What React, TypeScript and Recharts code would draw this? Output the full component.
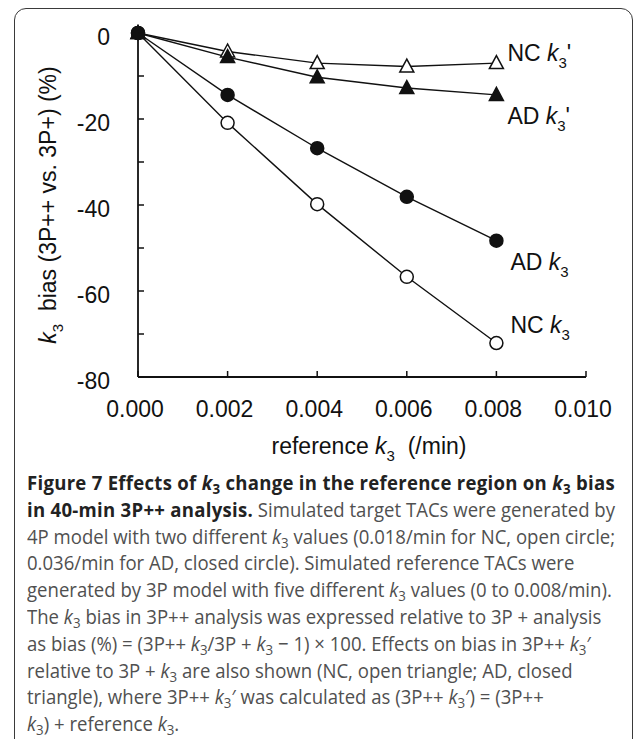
import React from 'react';
import { LineChart, Line, XAxis, YAxis, Label } from 'recharts';

// reference k3 (/min) and bias (%)
const refK3 = [0, 0.002, 0.004, 0.006, 0.008];
const ncK3 = [0, -20.9, -39.8, -56.7, -72.1];
const adK3 = [0, -14.4, -26.8, -38.1, -48.3];
const ncK3p = [0, -4.3, -7.0, -7.8, -7.0];
const adK3p = [0, -5.6, -10.3, -12.8, -14.4];

const xTicks = [0, 0.002, 0.004, 0.006, 0.008, 0.01];
const yTicks = [0, -10, -20, -30, -40, -50, -60, -70, -80];

const data = refK3.map((x, i) => ({
    x,
    ncK3: ncK3[i],
    adK3: adK3[i],
    ncK3p: ncK3p[i],
    adK3p: adK3p[i],
}));

const INK = '#111';
const FONT = '"Liberation Sans", Arial, sans-serif';
const LAST = refK3.length - 1;

const YTick = ({ x, y, payload }: any) => (
    <g>
        <line x1={x} y1={y} x2={x + 6} y2={y} stroke={INK} strokeWidth={1.5} />
        {payload.value % 20 === 0 && (
            <text x={x - 28} y={y + 4} dy="0.355em" textAnchor="end" fontSize={23} fontFamily={FONT} fill={INK}>
                {payload.value}
            </text>
        )}
    </g>
);

const XTick = ({ x, y, payload }: any) => (
    <g>
        <line x1={x} y1={y} x2={x} y2={y - 6} stroke={INK} strokeWidth={1.5} />
        <text x={x - 3} y={y + 24} dy="0.71em" textAnchor="middle" fontSize={23} fontFamily={FONT} fill={INK}>
            {payload.value.toFixed(3)}
        </text>
    </g>
);

// "AD k3'" style tag, drawn next to the last point of a series
const Tag = ({ x, y, group, prime }: { x: number; y: number; group: string; prime?: boolean }) => (
    <text x={x} y={y} dy="0.355em" fontSize={23} fontFamily={FONT} fill={INK}>
        {group} <tspan fontStyle="italic">k</tspan>
        <tspan fontSize={15} dy={7}>3</tspan>
        {prime && <tspan dy={-7}>'</tspan>}
    </text>
);

const makeDot = (shape: 'circle' | 'triangle', filled: boolean, tag: { group: string; prime?: boolean; dx: number; dy: number }) =>
    (p: any) => {
        const { cx, cy, index } = p;
        const fill = filled ? INK : '#fff';
        return (
            <g key={`dot-${tag.group}-${tag.prime ? 'p' : ''}-${index}`}>
                {shape === 'circle' ? (
                    <circle cx={cx} cy={cy} r={6.5} fill={fill} stroke={INK} strokeWidth={1.5} />
                ) : (
                    <polygon
                        points={`${cx},${cy - 7.5} ${cx - 7},${cy + 5.5} ${cx + 7},${cy + 5.5}`}
                        fill={fill}
                        stroke={INK}
                        strokeWidth={1.5}
                        strokeLinejoin="miter"
                    />
                )}
                {index === LAST && <Tag x={cx + tag.dx} y={cy + tag.dy} group={tag.group} prime={tag.prime} />}
            </g>
        );
    };

const K = ({ prime }: { prime?: boolean }) => (
    <span style={{ whiteSpace: 'nowrap' }}>
        <i>k</i>
        <span style={{ fontSize: '0.72em', lineHeight: 0, position: 'relative', top: '0.28em' }}>3</span>
        {prime ? '′' : ''}
    </span>
);

const Caption = () => (
    <div
        style={{
            position: 'absolute',
            left: 27,
            top: 470,
            fontFamily: '"Open Sans", "Noto Sans", sans-serif',
            fontSize: 20,
            lineHeight: '26.8px',
            color: '#505050',
            whiteSpace: 'nowrap',
            transform: 'scaleX(0.928)',
            transformOrigin: 'left top',
        }}
    >
        <div style={{ height: 26.8, color: '#222', fontWeight: 700, letterSpacing: 0.3 }}>
            Figure 7 Effects of <K /> change in the reference region on <K /> bias
        </div>
        <div style={{ height: 26.8 }}>
            <b style={{ color: '#222', letterSpacing: 0.3 }}>in 40-min 3P++ analysis.</b> Simulated target TACs were generated by
        </div>
        <div style={{ height: 26.8 }}>4P model with two different <K /> values (0.018/min for NC, open circle;</div>
        <div style={{ height: 26.8 }}>0.036/min for AD, closed circle). Simulated reference TACs were</div>
        <div style={{ height: 26.8 }}>generated by 3P model with five different <K /> values (0 to 0.008/min).</div>
        <div style={{ height: 26.8 }}>The <K /> bias in 3P++ analysis was expressed relative to 3P + analysis</div>
        <div style={{ height: 26.8 }}>
            as bias (%) = (3P++ <K />/3P + <K /> − 1) × 100. Effects on bias in 3P++ <K prime />
        </div>
        <div style={{ height: 26.8 }}>relative to 3P + <K /> are also shown (NC, open triangle; AD, closed</div>
        <div style={{ height: 26.8 }}>
            triangle), where 3P++ <K prime /> was calculated as (3P++ <K prime />) = (3P++
        </div>
        <div style={{ height: 26.8 }}>
            <K />) + reference <K />.
        </div>
    </div>
);

export default function App() {
    return (
        <div style={{ position: 'absolute', left: 0, top: 0, width: 633, height: 739, overflow: 'hidden', background: '#fff' }}>
            <div
                style={{
                    position: 'absolute',
                    left: 14,
                    top: 8,
                    width: 619,
                    height: 800,
                    border: '1.5px solid #3a3a3a',
                    borderRadius: 12,
                    boxSizing: 'border-box',
                }}
            />
            <div style={{ position: 'absolute', left: 0, top: 0 }}>
                <LineChart width={633} height={470} data={data} margin={{ top: 33, right: 47, bottom: 33, left: 78 }}>
                    <XAxis
                        dataKey="x"
                        type="number"
                        domain={[0, 0.01]}
                        ticks={xTicks}
                        height={60}
                        tickSize={0}
                        tickMargin={0}
                        tickLine={false}
                        tick={<XTick />}
                        stroke={INK}
                        strokeWidth={1.8}
                    >
                        <Label
                            content={({ viewBox }: any) => (
                                <text
                                    x={viewBox.x + viewBox.width / 2 + 7}
                                    y={viewBox.y + 69}
                                    dy="0.355em"
                                    textAnchor="middle"
                                    fontSize={23}
                                    fontFamily={FONT}
                                    fill={INK}
                                >
                                    reference <tspan fontStyle="italic">k</tspan>
                                    <tspan fontSize={15} dy={7}>3</tspan>
                                    <tspan dy={-7} xmlSpace="preserve">{'  (/min)'}</tspan>
                                </text>
                            )}
                        />
                    </XAxis>
                    <XAxis
                        xAxisId="top"
                        orientation="top"
                        dataKey="x"
                        type="number"
                        domain={[0, 0.01]}
                        height={0}
                        tick={false}
                        tickLine={false}
                        stroke={INK}
                        strokeWidth={1.8}
                    />
                    <YAxis
                        type="number"
                        domain={[-80, 0]}
                        ticks={yTicks}
                        width={60}
                        tickSize={0}
                        tickMargin={0}
                        tickLine={false}
                        tick={<YTick />}
                        stroke={INK}
                        strokeWidth={1.8}
                    >
                        <Label
                            content={({ viewBox }: any) => {
                                const cx = viewBox.x - 30;
                                const cy = viewBox.y + viewBox.height / 2;
                                return (
                                    <text
                                        x={cx}
                                        y={cy}
                                        dy="0.355em"
                                        textAnchor="middle"
                                        transform={`rotate(-90, ${cx}, ${cy})`}
                                        fontSize={23}
                                        fontFamily={FONT}
                                        fill={INK}
                                    >
                                        <tspan fontStyle="italic">k</tspan>
                                        <tspan fontSize={15} dy={7}>3</tspan>
                                        <tspan dy={-7} xmlSpace="preserve">{'  bias (3P++ vs. 3P+) (%)'}</tspan>
                                    </text>
                                );
                            }}
                        />
                    </YAxis>
                    <YAxis
                        yAxisId="right"
                        orientation="right"
                        type="number"
                        domain={[-80, 0]}
                        width={0}
                        tick={false}
                        tickLine={false}
                        stroke={INK}
                        strokeWidth={1.8}
                    />
                    <Line
                        type="linear"
                        dataKey="ncK3"
                        stroke={INK}
                        strokeWidth={1.4}
                        dot={makeDot('circle', false, { group: 'NC', dx: 14, dy: -18 })}
                        activeDot={false}
                        isAnimationActive={false}
                    />
                    <Line
                        type="linear"
                        dataKey="ncK3p"
                        stroke={INK}
                        strokeWidth={1.4}
                        dot={makeDot('triangle', false, { group: 'NC', prime: true, dx: 11, dy: -10 })}
                        activeDot={false}
                        isAnimationActive={false}
                    />
                    <Line
                        type="linear"
                        dataKey="adK3p"
                        stroke={INK}
                        strokeWidth={1.4}
                        dot={makeDot('triangle', true, { group: 'AD', prime: true, dx: 11, dy: 21 })}
                        activeDot={false}
                        isAnimationActive={false}
                    />
                    <Line
                        type="linear"
                        dataKey="adK3"
                        stroke={INK}
                        strokeWidth={1.4}
                        dot={makeDot('circle', true, { group: 'AD', dx: 14, dy: 21 })}
                        activeDot={false}
                        isAnimationActive={false}
                    />
                </LineChart>
            </div>
            <Caption />
        </div>
    );
}
